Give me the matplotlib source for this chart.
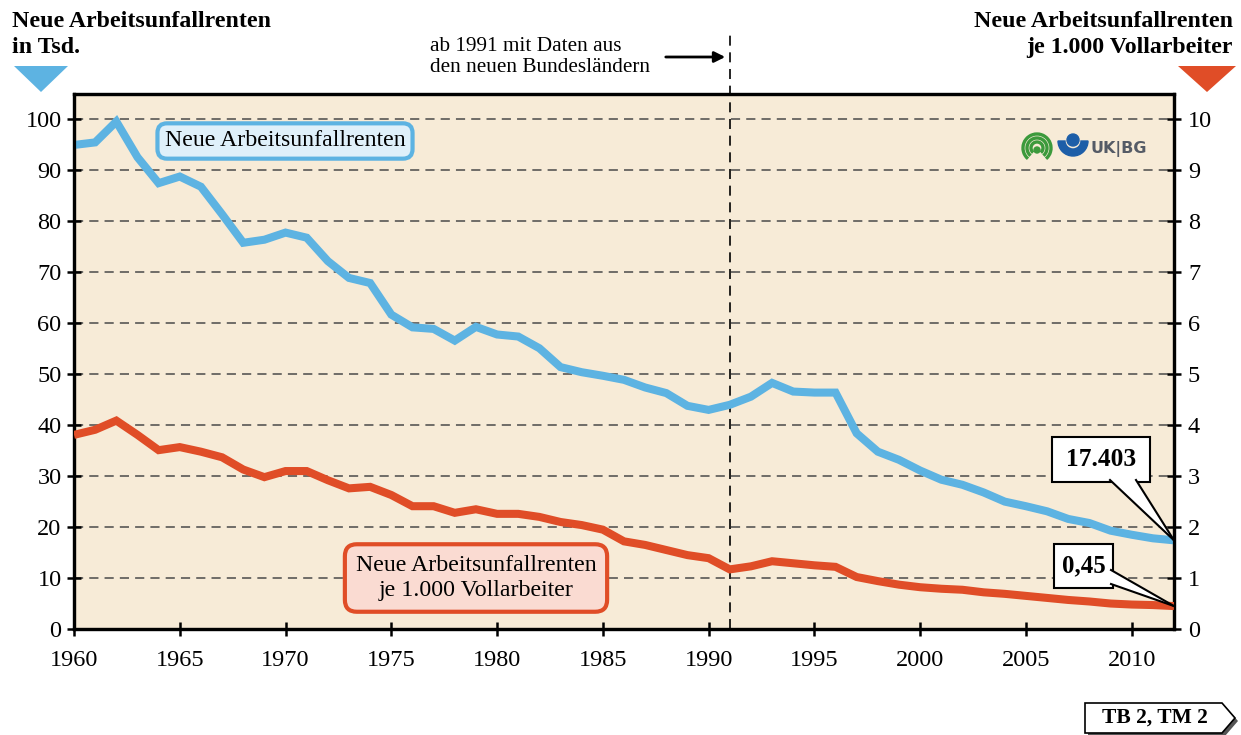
import matplotlib
matplotlib.use("Agg")
import matplotlib.pyplot as plt
import matplotlib.patches as patches
import matplotlib.transforms as mtransforms
from matplotlib.lines import Line2D

# ================================
# DATEN
# ================================
jahre = list(range(1960, 2013))

renten_tsd = [
    95.0, 95.5, 99.6, 92.6, 87.5, 88.8, 86.8, 81.4, 75.8, 76.4,
    77.8, 76.8, 72.2, 68.9, 67.9, 61.7, 59.2, 58.9, 56.6, 59.3,
    57.8, 57.4, 55.1, 51.4, 50.4, 49.7, 48.9, 47.4, 46.3, 43.8,
    43.0, 44.0, 45.6, 48.3, 46.6, 46.4, 46.4, 38.4, 34.8, 33.2,
    31.1, 29.3, 28.3, 26.8, 25.0, 24.1, 23.1, 21.6, 20.8, 19.3,
    18.5, 17.8, 17.403,
]

renten_je_1000 = [
    3.81, 3.91, 4.09, 3.81, 3.51, 3.57, 3.48, 3.37, 3.13, 2.98,
    3.10, 3.10, 2.92, 2.76, 2.79, 2.63, 2.41, 2.41, 2.28, 2.35,
    2.26, 2.26, 2.20, 2.10, 2.04, 1.95, 1.72, 1.65, 1.55, 1.45,
    1.39, 1.17, 1.23, 1.33, 1.29, 1.25, 1.22, 1.02, 0.94, 0.87,
    0.82, 0.79, 0.77, 0.72, 0.69, 0.65, 0.61, 0.57, 0.54, 0.50,
    0.48, 0.47, 0.45,
]

x_ticks = list(range(1960, 2011, 5))
y_ticks_links = list(range(0, 101, 10))
y_ticks_rechts = list(range(0, 11))

FARBE_BLAU = "#5db3e2"
FARBE_ROT = "#e04d27"
FARBE_FONDO = "#f7ebd7"
SERIF = "Liberation Serif"

W, H = 1241, 735

plt.rcParams["font.family"] = SERIF

fig = plt.figure(figsize=(W / 100, H / 100), dpi=100)
fig.patch.set_facecolor("white")

# Pixel-Koordinaten (oben links = 0,0)
P = mtransforms.Affine2D().scale(1 / W, -1 / H).translate(0, 1) + fig.transFigure

ax = fig.add_axes([74 / W, 1 - 629 / H, 1100 / W, 535 / H])
ax.set_facecolor(FARBE_FONDO)
ax2 = ax.twinx()

ax.set_xlim(1960, 2012)
ax.set_ylim(0, 105)
ax2.set_ylim(0, 10.5)

# Gitter
for v in y_ticks_links[1:]:
    ax.axhline(v, color="#4a4a4a", lw=1.1, dashes=(6, 4), zorder=1)

# Linien
ax.plot(jahre, renten_tsd, color=FARBE_BLAU, lw=5.8, solid_joinstyle="miter",
        solid_capstyle="butt", zorder=4)
ax2.plot(jahre, renten_je_1000, color=FARBE_ROT, lw=5.8, solid_joinstyle="miter",
         solid_capstyle="butt", zorder=4)

# 1991-Linie
ax.plot([1991, 1991], [0, 116.6], color="black", lw=1.2, dashes=(6, 4),
        clip_on=False, zorder=3)

# Achsen
for a in (ax, ax2):
    for s in a.spines.values():
        s.set_linewidth(2.3)
        s.set_color("black")
ax.set_xticks(x_ticks)
ax.set_yticks(y_ticks_links)
ax2.set_yticks(y_ticks_rechts)
ax.tick_params(axis="both", direction="inout", length=10, width=1.8,
               labelsize=17.5, pad=4)
ax.tick_params(axis="x", pad=10)
ax2.tick_params(axis="y", direction="inout", length=10, width=1.8,
                labelsize=17.5, pad=5)

# Überschriften
fig.text(12 / W, 1 - 11 / H, "Neue Arbeitsunfallrenten\nin Tsd.", ha="left", va="top",
         fontsize=17.2, fontweight="bold", linespacing=1.3)
fig.text(1233 / W, 1 - 11 / H, "Neue Arbeitsunfallrenten\nje 1.000 Vollarbeiter",
         ha="right", va="top", fontsize=17.2, fontweight="bold", linespacing=1.3,
         multialignment="right")

fig.patches.append(patches.Polygon([(14, 66), (68, 66), (41, 92)], closed=True,
                                   facecolor=FARBE_BLAU, edgecolor="none", transform=P))
fig.patches.append(patches.Polygon([(1178, 66), (1236, 66), (1207, 92)], closed=True,
                                   facecolor=FARBE_ROT, edgecolor="none", transform=P))

# Hinweis 1991
fig.text(430 / W, 1 - 57 / H, "ab 1991 mit Daten aus\nden neuen Bundesländern",
         ha="left", va="center", fontsize=15.3, linespacing=1.2)
ax.annotate("", xy=(728, 57), xycoords=P, xytext=(663, 57), textcoords=P,
            arrowprops=dict(arrowstyle="-|>", color="black", lw=2, mutation_scale=16))

# Serienbeschriftungen
fig.text(285 / W, 1 - 141 / H, "Neue Arbeitsunfallrenten", ha="center", va="center",
         fontsize=17.2,
         bbox=dict(boxstyle="round,pad=0.3,rounding_size=0.4", facecolor="#dff0fa",
                   edgecolor=FARBE_BLAU, lw=3))
fig.text(476 / W, 1 - 578 / H, "Neue Arbeitsunfallrenten\nje 1.000 Vollarbeiter",
         ha="center", va="center", fontsize=17.2, linespacing=1.25,
         bbox=dict(boxstyle="round,pad=0.45,rounding_size=0.5", facecolor="#fadbd2",
                   edgecolor=FARBE_ROT, lw=3))


# Callouts
def callout(box, base1, base2, tip, text, size):
    x0, y0, x1, y1 = box
    rect = patches.Rectangle((x0, y0), x1 - x0, y1 - y0, facecolor="white",
                             edgecolor="black", lw=1.5, transform=P, zorder=5)
    fig.patches.append(rect)
    wedge = patches.Polygon([base1, tip, base2], closed=True, facecolor="white",
                            edgecolor="none", transform=P, zorder=6)
    fig.patches.append(wedge)
    for b in (base1, base2):
        fig.lines.append(Line2D([b[0], tip[0]], [b[1], tip[1]], color="black",
                                lw=1.5, transform=P, zorder=7))
    fig.text((x0 + x1) / 2 / W, 1 - (y0 + y1) / 2 / H, text, ha="center",
             va="center", fontsize=size, fontweight="bold", zorder=8)


def daten_zu_pixel(achse, punkt):
    disp = achse.transData.transform(punkt)
    return tuple(P.inverted().transform(disp))


tip_blau = daten_zu_pixel(ax, (jahre[-1], renten_tsd[-1]))
tip_rot = daten_zu_pixel(ax2, (jahre[-1], renten_je_1000[-1]))
callout((1052, 437, 1150, 482), (1110, 480), (1136, 480), tip_blau, "17.403", 18.4)
callout((1054, 544, 1113, 588), (1111, 570), (1111, 584), tip_rot, "0,45", 17.8)

# Logo
for r in (14, 10, 6):
    fig.patches.append(patches.Arc((1037, 148), 2 * r, 2 * r, theta1=130, theta2=50,
                                   color="#3c9a3c", lw=2.4, transform=P))
fig.patches.append(patches.Circle((1037, 150), 3, color="#3c9a3c", transform=P))
fig.patches.append(patches.Wedge((1073, 141), 15, 0, 180, width=7, color="#1d5ea8",
                                 transform=P))
fig.patches.append(patches.Circle((1073, 140), 6, color="#1d5ea8", transform=P))
fig.text(1091 / W, 1 - 149 / H, "UK|BG", ha="left", va="center", fontsize=11.5,
         fontweight="bold", color="#555b66", family="DejaVu Sans")

# TB-Kennung
schatten = patches.Polygon([(1088, 706), (1225, 706), (1238, 721), (1225, 736), (1088, 736)],
                           closed=True, facecolor="#555555", edgecolor="none",
                           transform=P)
pfeil = patches.Polygon([(1085, 703), (1222, 703), (1235, 718), (1222, 733), (1085, 733)],
                        closed=True, facecolor="white", edgecolor="black", lw=1.2,
                        transform=P)
fig.patches.append(schatten)
fig.patches.append(pfeil)
fig.text(1155 / W, 1 - 718 / H, "TB 2, TM 2", ha="center", va="center", fontsize=15.5,
         fontweight="bold")

fig.savefig("out.png", dpi=100, facecolor="white")
